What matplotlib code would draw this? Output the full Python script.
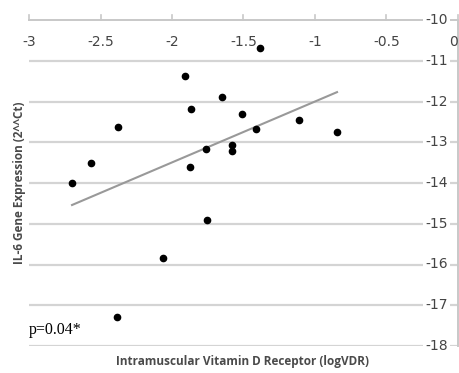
import matplotlib.pyplot as plt
import numpy as np

# logVDR vs IL-6 expression
vdr = [-2.699, -2.566, -2.385, -2.378, -2.063, -1.909, -1.874, -1.867, -1.762,
       -1.755, -1.650, -1.580, -1.580, -1.510, -1.413, -1.385, -1.112, -0.846]
il6 = [-14.00, -13.51, -17.29, -12.63, -15.84, -11.37, -13.61, -12.18, -13.17,
       -14.91, -11.89, -13.07, -13.21, -12.31, -12.67, -10.69, -12.45, -12.75]

# linear trendline endpoints
trend_x = [-2.699, -0.846]
trend_y = [-14.54, -11.77]

xticks = [-3, -2.5, -2, -1.5, -1, -0.5, 0]
xlabels = ['-3', '-2.5', '-2', '-1.5', '-1', '-0.5', '0']
yticks = [-10, -11, -12, -13, -14, -15, -16, -17, -18]

fig = plt.figure(figsize=(4.6, 3.73), dpi=100)
ax = fig.add_axes([29/460, 1-346/373, 429/460, 326/373])
ax.set_xlim(-3, 0)
ax.set_ylim(-18, -10)

grid_c = '#d4d4d4'
for y in yticks[1:]:
    ax.axhline(y, color=grid_c, lw=1.6, zorder=1)

for s in ['left', 'bottom']:
    ax.spines[s].set_visible(False)
for s in ['top', 'right']:
    ax.spines[s].set_color('#c8c8c8')
    ax.spines[s].set_linewidth(1.4)

ax.set_xticks([])
ax.set_yticks([])
ax.patch.set_alpha(0)

# small x ticks above the top axis, labels just under it
for x, lab in zip(xticks, xlabels):
    ax.plot([x, x], [-10, -9.87], color='#c8c8c8', lw=1.2, clip_on=False, zorder=2)
    ax.text(x, -10.55, lab, ha='right' if x == 0 else 'center', va='center',
            fontsize=10, color='#444444', family='Liberation Sans Narrow')

# y labels drawn left of the right-hand axis
for y in yticks:
    ax.text(-0.15, y, str(y), ha='center', va='center', fontsize=10,
            color='#444444', family='Liberation Sans Narrow', zorder=3,
            bbox=dict(facecolor='white', edgecolor='none', pad=1.5))

ax.plot(trend_x, trend_y, color='#999999', lw=1.5, zorder=2)
ax.plot(vdr, il6, 'o', color='black', markersize=4.5, zorder=4)

ax.text(-3.0, -17.6, 'p=0.04*', fontsize=11.5, family='Liberation Serif',
        ha='left', va='center', color='black')

fig.text(20/460, 1-183/373, 'IL-6 Gene Expression (2^^Ct)', rotation=90,
         ha='center', va='center', fontsize=8.5, fontweight='bold', color='#4a4a4a',
         family='Open Sans')
fig.text(243/460, 1-362/373, 'Intramuscular Vitamin D Receptor (logVDR)',
         ha='center', va='center', fontsize=8.5, fontweight='bold', color='#4a4a4a',
         family='Open Sans')

fig.savefig('out.png', dpi=100)
